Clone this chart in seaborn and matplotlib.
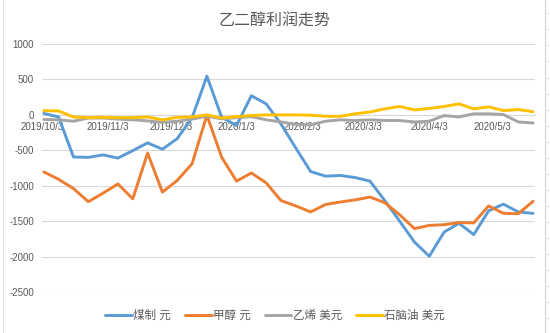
import numpy as np
import pandas as pd
import matplotlib
matplotlib.use("Agg")
import matplotlib.pyplot as plt
import matplotlib.dates as mdates
from matplotlib.lines import Line2D
import seaborn as sns

# ---------------- data ----------------
title = "乙二醇利润走势"
series_names = ["煤制 元", "甲醇 元", "乙烯 美元", "石脑油 美元"]
colors = ["#5B9BD5", "#ED7D31", "#A5A5A5", "#FFC000"]
start_date = "2019-10-04"
n_weeks = 34

coal = [20, -30, -595, -600, -565, -610, -505, -395, -485, -335,
        -40, 545, -35, -150, 270, 155, -130, -470, -800, -865,
        -855, -885, -935, -1210, -1500, -1795, -1995, -1655, -1530, -1690,
        -1355, -1260, -1370, -1390]
methanol = [-805, -910, -1040, -1225, -1105, -975, -1185, -540, -1090, -925,
            -690, -5, -600, -935, -820, -960, -1210, -1285, -1370, -1265,
            -1230, -1200, -1160, -1240, -1410, -1605, -1560, -1550, -1520, -1525,
            -1285, -1390, -1395, -1220]
ethylene = [-65, -70, -90, -45, -45, -60, -70, -85, -105, -90,
            -60, -20, -55, -40, -25, -70, -100, -135, -140, -90,
            -70, -80, -70, -80, -80, -100, -90, -10, -30, 15,
            15, 5, -100, -115]
naphtha = [60, 55, -30, -40, -35, -40, -40, -30, -70, -35,
           -30, 0, -45, -25, -10, 0, 0, 0, -5, -20,
           -20, 15, 40, 85, 118, 70, 90, 118, 155, 85,
           113, 60, 75, 45]

tick_dates = ["2019-10-03", "2019-11-03", "2019-12-03", "2020-01-03",
              "2020-02-03", "2020-03-03", "2020-04-03", "2020-05-03"]
tick_labels = ["2019/10/3", "2019/11/3", "2019/12/3", "2020/1/3",
               "2020/2/3", "2020/3/3", "2020/4/3", "2020/5/3"]
y_ticks = [1000, 500, 0, -500, -1000, -1500, -2000, -2500]

# ---------------- frame ----------------
dates = pd.date_range(start_date, periods=n_weeks, freq="7D")
values = [coal, methanol, ethylene, naphtha]
df = pd.concat([pd.DataFrame({"date": dates, "value": v, "series": name})
                for name, v in zip(series_names, values)], ignore_index=True)

sns.set_theme(style="white")
plt.rcParams["font.family"] = ["Liberation Sans", "Noto Sans CJK SC", "DejaVu Sans"]

W, H = 550, 333
fig = plt.figure(figsize=(W / 100, H / 100), dpi=100)
ax_l, ax_r, ax_t, ax_b = 41.7, 535, 44, 292
ax = fig.add_axes([ax_l / W, 1 - ax_b / H, (ax_r - ax_l) / W, (ax_b - ax_t) / H])

sns.lineplot(data=df, x="date", y="value", hue="series", hue_order=series_names,
             palette=colors, linewidth=2.1, ax=ax, legend=True)

ax.set_ylim(-2500, 1000)
ax.set_yticks(y_ticks)
ax.set_yticklabels([str(t) for t in y_ticks])
ax.set_xlim(dates[0] - pd.Timedelta(hours=18), dates[-1] + pd.Timedelta(hours=22))
ax.set_xticks(pd.to_datetime(tick_dates))
ax.set_xticklabels(tick_labels)
ax.set_xlabel("")
ax.set_ylabel("")

ax.grid(axis="y", color="#D9D9D9", linewidth=0.8)
ax.grid(axis="x", visible=False)
ax.set_axisbelow(True)
for s in ["top", "right", "left"]:
    ax.spines[s].set_visible(False)
ax.spines["bottom"].set_position(("data", 0))
ax.spines["bottom"].set_color("#D9D9D9")
ax.spines["bottom"].set_linewidth(0.8)
ax.spines["bottom"].set_zorder(0.5)
ax.tick_params(axis="both", length=0, labelsize=7, colors="#595959")
ax.tick_params(axis="y", pad=5.5)
ax.tick_params(axis="x", pad=5)

sns.move_legend(ax, "center", bbox_to_anchor=((275 - ax_l) / (ax_r - ax_l), (ax_b - 316) / (ax_b - ax_t)),
                ncol=4, frameon=False, title=None, fontsize=8.3,
                handlelength=2.3, handletextpad=0.1, columnspacing=1.25,
                labelcolor="#595959")
for h in ax.get_legend().get_lines():
    h.set_linewidth(2.1)

fig.text(0.5, 1 - 21 / H, title, ha="center", va="center", fontsize=11.5, color="#595959")

# worksheet border remnants
fig.add_artist(Line2D([545 / W, 545 / W], [0, 1], color="#D4D4D4", linewidth=0.8))
fig.add_artist(Line2D([2.5 / W, 2.5 / W], [0, 1], color="#E3E3E3", linewidth=0.8))
for yy in np.arange(13.3, H, 16.05):
    fig.add_artist(Line2D([545 / W, 1], [1 - yy / H, 1 - yy / H], color="#E0E0E0", linewidth=0.6))

fig.savefig("out.png", dpi=100)
